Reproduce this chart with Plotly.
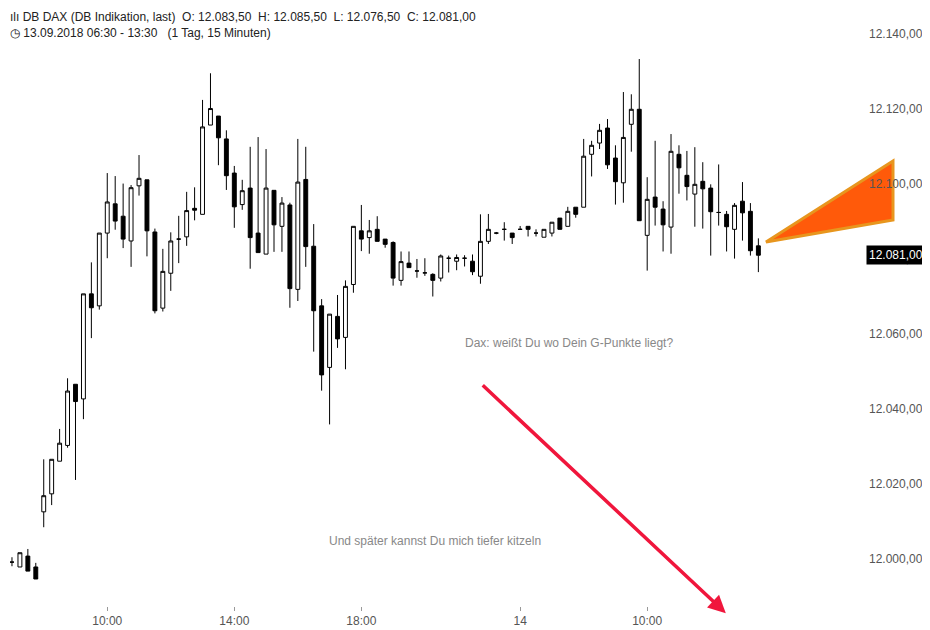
import plotly.graph_objects as go

# 15-minute candles, DB DAX indication, 13.09.2018 - 14.09.2018
opens = [12000.8, 11999.2, 11997.9, 12000.8, 11997.9, 12012.6, 12017.4, 12026.1, 12030.3, 12046.6,
         12042.7, 12070.7, 12067.5, 12086.9, 12094.7, 12091.4, 12084.8, 12099.5, 12101.1, 12087.2,
         12066.9, 12076.2, 12085.3, 12085.9, 12093.5, 12091.9, 12115.7, 12118.1, 12112.0, 12102.9,
         12094.5, 12098.9, 12086.9, 12081.3, 12098.3, 12088.7, 12094.4, 12071.9, 12101.2, 12083.4,
         12067.5, 12051.1, 12064.7, 12059.1, 12073.2, 12087.5, 12085.7, 12087.9, 12085.3, 12084.4,
         12074.3, 12078.9, 12076.8, 12076.3, 12075.9, 12074.9, 12080.2, 12079.4, 12080.2, 12079.4,
         12075.4, 12084.7, 12086.9, 12087.9, 12086.9, 12087.9, 12088.7, 12086.9, 12085.8, 12086.9,
         12090.9, 12088.7, 12093.8, 12093.8, 12107.9, 12110.9, 12114.9, 12106.9, 12100.3, 12115.9,
         12119.9, 12086.3, 12096.5, 12093.3, 12088.5, 12107.9, 12102.3, 12097.3, 12100.7, 12098.9,
         12092.4, 12091.9, 12087.9, 12095.4, 12092.7, 12083.5]
highs = [12001.6, 12000.5, 12001.7, 12002.7, 11999.0, 12026.6, 12026.6, 12034.7, 12048.2, 12046.6,
         12070.7, 12079.1, 12086.9, 12102.9, 12102.1, 12100.1, 12099.7, 12107.7, 12101.1, 12088.1,
         12082.7, 12087.1, 12091.5, 12097.9, 12099.1, 12122.4, 12129.5, 12118.1, 12114.3, 12104.8,
         12101.1, 12109.9, 12112.5, 12109.3, 12098.3, 12096.5, 12095.0, 12112.0, 12109.9, 12089.3,
         12069.3, 12065.3, 12070.4, 12074.3, 12088.7, 12094.4, 12090.4, 12091.4, 12085.3, 12084.7,
         12082.0, 12082.0, 12080.0, 12080.2, 12076.2, 12081.2, 12080.9, 12081.2, 12081.0, 12081.2,
         12091.9, 12092.0, 12087.2, 12089.8, 12086.9, 12088.8, 12088.7, 12087.9, 12087.9, 12089.8,
         12090.9, 12093.9, 12093.8, 12112.0, 12111.5, 12116.0, 12117.3, 12110.3, 12124.5, 12123.9,
         12133.3, 12101.8, 12111.5, 12095.4, 12113.3, 12110.3, 12108.8, 12109.8, 12105.8, 12099.9,
         12105.2, 12092.8, 12094.9, 12100.5, 12094.9, 12085.5]
lows = [11999.5, 11998.1, 11997.9, 11996.8, 11994.7, 12008.5, 12014.4, 12026.1, 12029.7, 12021.1,
        12037.3, 12058.9, 12066.5, 12080.2, 12087.8, 12082.9, 12077.9, 12096.9, 12080.7, 12065.5,
        12066.0, 12071.5, 12078.9, 12083.5, 12090.3, 12091.9, 12115.7, 12105.0, 12098.4, 12088.3,
        12093.1, 12077.4, 12081.7, 12081.3, 12081.9, 12081.9, 12067.0, 12068.8, 12077.9, 12055.3,
        12044.9, 12035.9, 12056.3, 12050.6, 12071.0, 12082.1, 12081.4, 12084.7, 12083.0, 12072.9,
        12072.9, 12077.7, 12075.0, 12075.5, 12070.0, 12074.0, 12076.4, 12077.0, 12078.0, 12075.7,
        12073.4, 12084.0, 12086.6, 12084.9, 12084.0, 12087.9, 12086.0, 12086.0, 12085.8, 12086.0,
        12087.9, 12088.7, 12091.0, 12093.8, 12102.0, 12109.3, 12104.0, 12094.5, 12095.0, 12108.6,
        12090.2, 12076.9, 12088.9, 12082.0, 12081.4, 12097.4, 12095.6, 12088.6, 12088.1, 12080.9,
        12088.9, 12082.0, 12080.1, 12084.9, 12080.9, 12076.5]
closes = [11999.7, 11999.2, 12001.7, 11996.8, 11994.7, 12016.9, 12026.6, 12030.9, 12044.8, 12042.0,
          12070.7, 12067.0, 12086.9, 12095.2, 12090.1, 12085.3, 12099.0, 12101.5, 12087.5, 12066.2,
          12076.7, 12084.8, 12085.3, 12092.9, 12093.0, 12115.2, 12120.1, 12112.3, 12102.2, 12093.9,
          12098.2, 12085.7, 12081.7, 12098.9, 12089.1, 12094.9, 12072.1, 12100.5, 12083.3, 12066.2,
          12049.1, 12065.3, 12058.7, 12072.7, 12088.7, 12085.3, 12087.5, 12084.7, 12083.9, 12074.9,
          12079.3, 12077.7, 12076.8, 12076.3, 12074.3, 12080.8, 12080.2, 12080.4, 12080.2, 12076.6,
          12084.7, 12087.9, 12086.9, 12087.9, 12085.7, 12087.9, 12087.9, 12086.9, 12087.9, 12089.8,
          12087.9, 12092.7, 12091.9, 12107.4, 12110.3, 12114.3, 12105.1, 12100.6, 12112.4, 12119.9,
          12090.2, 12095.9, 12093.8, 12089.1, 12108.7, 12104.3, 12099.3, 12099.9, 12098.7, 12092.6,
          12092.4, 12088.6, 12094.3, 12092.3, 12082.2, 12081.0]

tick_pos = [13, 29, 45, 65, 81]
tick_text = ["10:00", "14:00", "18:00", "14", "10:00"]
y_ticks = [12000, 12020, 12040, 12060, 12080, 12100, 12120, 12140]
last_price = closes[-1]

idx = list(range(len(closes)))

fig = go.Figure(go.Candlestick(
    x=idx, open=opens, high=highs, low=lows, close=closes,
    increasing=dict(line=dict(color="black", width=1), fillcolor="white"),
    decreasing=dict(line=dict(color="black", width=1), fillcolor="black"),
    whiskerwidth=0, showlegend=False, hoverinfo="skip",
))

font = "Liberation Sans, Arial, sans-serif"
PW = 852  # plot width in px


def px(xpix):
    # page pixel -> paper x (page has an 8px body margin)
    return (xpix - 8) / PW


fig.update_layout(
    width=922, height=622, margin=dict(l=0, r=70, t=0, b=24),
    paper_bgcolor="white", plot_bgcolor="white",
    separators=",.", font=dict(family=font, size=12, color="#555"),
    xaxis=dict(range=[0.5, 107.8], rangeslider=dict(visible=False), showgrid=False,
               zeroline=False, tickvals=tick_pos, ticktext=tick_text,
               ticks="outside", ticklen=4, tickcolor="#999", showline=False,
               tickfont=dict(size=12, color="#555")),
    yaxis=dict(range=[12146.9, 11987.5][::-1], side="right", showgrid=False, zeroline=False,
               tickvals=y_ticks, tickformat=",.2f", ticks="", ticklabelstandoff=8,
               tickfont=dict(size=12, color="#555")),
)

# header
fig.add_annotation(xref="paper", yref="paper", x=0.0, y=1.0, xanchor="left", yanchor="top",
                   showarrow=False, align="left",
                   font=dict(size=12, color="#222", family=font),
                   text="ılı DB DAX (DB Indikation, last)  O: 12.083,50  H: 12.085,50  L: 12.076,50  C: 12.081,00"
                        "<br>◷ 13.09.2018 06:30 - 13:30   (1 Tag, 15 Minuten)")

# comments
fig.add_annotation(xref="paper", yref="y", x=px(569), y=12057.6, showarrow=False,
                   text="Dax: weißt Du wo Dein G-Punkte liegt?", font=dict(size=12, color="#888"))
fig.add_annotation(xref="paper", yref="y", x=px(435), y=12004.8, showarrow=False,
                   text="Und später kannst Du mich tiefer kitzeln", font=dict(size=12, color="#888"))

# red arrow
fig.add_annotation(xref="x", yref="y", x=90.9, y=11985.6, ax=60.1, ay=12046.7,
                   axref="x", ayref="y", showarrow=True, arrowhead=2, arrowsize=1,
                   arrowwidth=3.5, arrowcolor="#f0163c", text="")

# orange triangle
fig.add_shape(type="path", xref="paper", yref="y", layer="below",
              path=f"M {px(766)},12084.5 L {px(893)},12106.1 L {px(893)},12090.4 Z",
              fillcolor="#ff5a0a", line=dict(color="#e8961e", width=3))

# last price marker
fig.add_annotation(xref="paper", yref="y", x=px(866), y=last_price, xanchor="left", showarrow=False,
                   text="12.081,00", bgcolor="black", font=dict(color="white", size=12, family=font),
                   borderpad=2)

fig.write_html("out.html")
